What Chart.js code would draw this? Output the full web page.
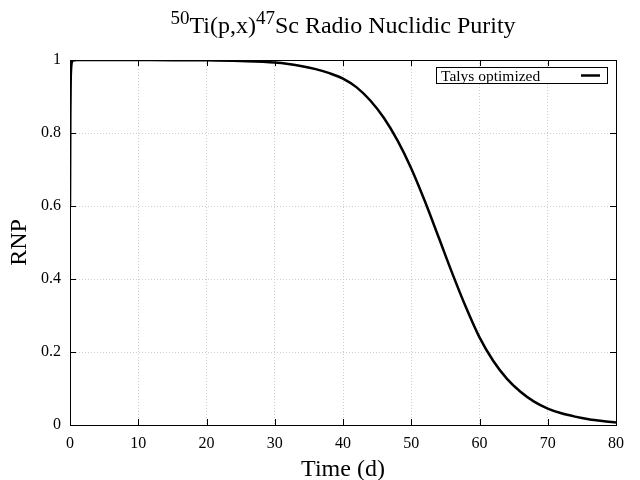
<!DOCTYPE html>
<html>
<head>
<meta charset="utf-8">
<script src="https://cdn.jsdelivr.net/npm/chart.js@4.4.1/dist/chart.umd.min.js"></script>
<style>
  html, body { margin: 0; padding: 0; background: #fff; }
  #wrap { width: 640px; height: 480px; }
</style>
</head>
<body>
<div id="wrap"><canvas id="rnpChart"></canvas></div>
<script>
// time in days and RNP values
const timeDays = [0, 0.05, 0.1, 0.2, 0.4, 1, 5, 10, 15, 20, 25, 30, 32, 34, 36, 38, 40,
  42, 44, 46, 48, 50, 52, 54, 56, 58, 60, 62, 64, 66, 68, 70, 72, 74, 76, 78, 80];
const rnpValues = [0.60, 0.85, 0.94, 0.985, 0.998, 1.0, 1.0, 0.9998, 0.9996, 0.999, 0.997, 0.993,
  0.989, 0.983, 0.975, 0.964, 0.949, 0.925, 0.889, 0.841, 0.779, 0.703, 0.613, 0.515, 0.416, 0.323,
  0.24, 0.176, 0.127, 0.091, 0.064, 0.045, 0.032, 0.023, 0.016, 0.011, 0.007];
const seriesLabel = 'Talys optimized';
const xTicks = [0, 10, 20, 30, 40, 50, 60, 70, 80];
const yTicks = [0, 0.2, 0.4, 0.6, 0.8, 1];

const serif = "'Liberation Serif', 'DejaVu Serif', serif";

// gnuplot-like frame, inward ticks, title with superscripts, boxed legend
const gnuplotLook = {
  id: 'gnuplotLook',
  afterDraw(chart) {
    const c = chart.ctx;
    const a = chart.chartArea;
    const xs = chart.scales.x, ys = chart.scales.y;
    c.save();
    c.strokeStyle = '#000';
    c.lineWidth = 1;
    c.strokeRect(a.left + 0.5, a.top + 0.5, a.right - a.left, a.bottom - a.top);
    c.beginPath();
    xTicks.forEach(v => {
      const px = Math.round(xs.getPixelForValue(v)) + 0.5;
      c.moveTo(px, a.bottom); c.lineTo(px, a.bottom - 6);
      c.moveTo(px, a.top); c.lineTo(px, a.top + 6);
    });
    yTicks.forEach(v => {
      const py = Math.round(ys.getPixelForValue(v)) + 0.5;
      c.moveTo(a.left, py); c.lineTo(a.left + 6, py);
      c.moveTo(a.right, py); c.lineTo(a.right - 6, py);
    });
    c.stroke();

    // title
    const big = '24px ' + serif, small = '19px ' + serif;
    const parts = [['50', small, -9], ['Ti(p,x)', big, 0], ['47', small, -9], ['Sc Radio Nuclidic Purity', big, 0]];
    let total = 0;
    parts.forEach(p => { c.font = p[1]; total += c.measureText(p[0]).width; });
    let tx = (a.left + a.right) / 2 - total / 2;
    const base = 33;
    c.fillStyle = '#000';
    c.textBaseline = 'alphabetic';
    c.textAlign = 'left';
    parts.forEach(p => {
      c.font = p[1];
      c.fillText(p[0], tx, base + p[2]);
      tx += c.measureText(p[0]).width;
    });

    // legend
    const bx = a.right - 180, by = a.top + 7, bw = 171, bh = 16;
    c.fillStyle = '#fff';
    c.fillRect(bx, by, bw, bh);
    c.strokeRect(bx + 0.5, by + 0.5, bw, bh);
    c.fillStyle = '#000';
    c.font = '15.5px ' + serif;
    c.fillText(chart.data.datasets[0].label, bx + 5, by + 14);
    c.lineWidth = 2.5;
    c.beginPath();
    c.moveTo(bx + 145, by + 8.5); c.lineTo(bx + 164, by + 8.5);
    c.stroke();
    c.restore();
  }
};

new Chart(document.getElementById('rnpChart'), {
  type: 'line',
  data: {
    datasets: [{
      label: seriesLabel,
      data: timeDays.map((t, i) => ({ x: t, y: rnpValues[i] })),
      borderColor: '#000',
      borderWidth: 2.5,
      pointRadius: 0,
      fill: false,
      cubicInterpolationMode: 'monotone'
    }]
  },
  options: {
    responsive: true,
    maintainAspectRatio: false,
    animation: false,
    layout: { padding: { top: 60, right: 24, left: 0, bottom: 0 } },
    plugins: {
      legend: { display: false },
      title: { display: false },
      tooltip: { enabled: false }
    },
    scales: {
      x: {
        type: 'linear',
        min: 0, max: 80,
        afterFit(s) { s.height = 55; },
        afterBuildTicks(s) { s.ticks = xTicks.map(v => ({ value: v })); },
        grid: { color: '#cfcfcf', drawTicks: false },
        border: { display: false, dash: [1, 2] },
        ticks: { color: '#000', padding: 9, font: { family: serif, size: 16 }, maxRotation: 0 },
        title: { display: true, text: 'Time (d)', color: '#000', font: { family: serif, size: 24 }, padding: { top: 0, bottom: -4 } }
      },
      y: {
        min: 0, max: 1,
        afterFit(s) { s.width = 70; },
        afterBuildTicks(s) { s.ticks = yTicks.map(v => ({ value: v })); },
        grid: { color: '#cfcfcf', drawTicks: false },
        border: { display: false, dash: [1, 2] },
        ticks: { color: '#000', padding: 9, font: { family: serif, size: 16 },
          callback: v => String(+v.toFixed(1)) },
        title: { display: true, text: 'RNP', color: '#000', font: { family: serif, size: 24 }, padding: { top: 5, bottom: 0 } }
      }
    }
  },
  plugins: [gnuplotLook]
});
</script>
</body>
</html>
